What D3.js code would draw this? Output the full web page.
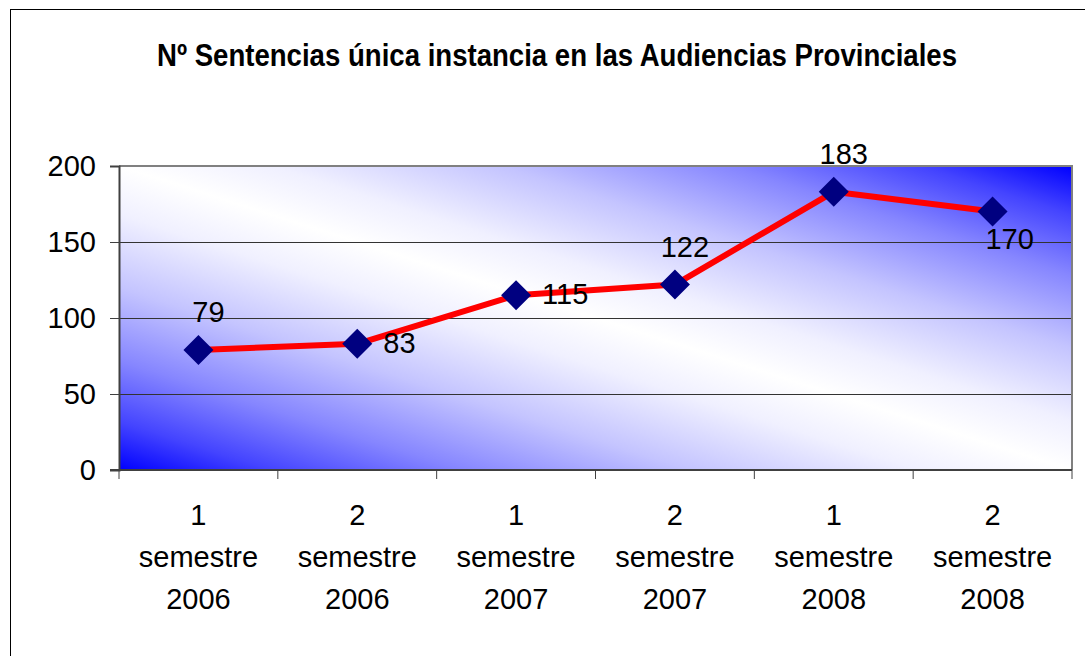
<!DOCTYPE html>
<html>
<head>
<meta charset="utf-8">
<script src="https://cdn.jsdelivr.net/npm/d3@7"></script>
<style>
  html, body { margin: 0; padding: 0; background: #fff; }
  svg { display: block; }
</style>
</head>
<body>
<script>
// ---- data ----
const titleText = "Nº Sentencias única instancia en las Audiencias Provinciales";
const categories = ["1 semestre 2006", "2 semestre 2006", "1 semestre 2007", "2 semestre 2007", "1 semestre 2008", "2 semestre 2008"];
const categoryLines = [
  ["1", "semestre", "2006"],
  ["2", "semestre", "2006"],
  ["1", "semestre", "2007"],
  ["2", "semestre", "2007"],
  ["1", "semestre", "2008"],
  ["2", "semestre", "2008"]
];
const values = [79, 83, 115, 122, 183, 170];
const yTicks = [0, 50, 100, 150, 200];
const labelPlacement = ["above", "right", "right", "above", "above", "below"];

// ---- layout ----
const W = 1085, H = 656;
const plot = { left: 119, top: 166, right: 1072, bottom: 470 };

const svg = d3.select("body").append("svg").attr("width", W).attr("height", H);

// outer chart border
svg.append("rect")
  .attr("x", 10.5).attr("y", 9.5)
  .attr("width", W + 20).attr("height", H + 20)
  .attr("fill", "#fff").attr("stroke", "#000").attr("stroke-width", 1);

// title
svg.append("text")
  .attr("x", 557).attr("y", 66)
  .attr("text-anchor", "middle")
  .attr("font-family", "'Liberation Sans Narrow', 'Arial Narrow', 'Liberation Sans', Arial, sans-serif")
  .attr("font-weight", "bold")
  .attr("font-size", 32)
  .attr("textLength", 800)
  .attr("lengthAdjust", "spacingAndGlyphs")
  .attr("fill", "#000")
  .text(titleText);

const x = d3.scaleBand().domain(categories).range([plot.left, plot.right]).paddingInner(0).paddingOuter(0);
const y = d3.scaleLinear().domain([0, 200]).range([plot.bottom, plot.top]);

// gradient background
const defs = svg.append("defs");
const grad = defs.append("linearGradient")
  .attr("id", "bg")
  .attr("x1", 0).attr("y1", 1).attr("x2", 1).attr("y2", 0);
const stops = [
  [0, "#0000ff"], [0.08, "#4444ff"], [0.18, "#8686ff"], [0.3, "#c4c4ff"], [0.42, "#f0f0ff"], [0.5, "#ffffff"],
  [0.58, "#f0f0ff"], [0.7, "#c4c4ff"], [0.82, "#8686ff"], [0.92, "#4444ff"], [1, "#0000ff"]
];
stops.forEach(s => grad.append("stop").attr("offset", s[0]).attr("stop-color", s[1]));

svg.append("rect")
  .attr("x", plot.left).attr("y", plot.top)
  .attr("width", plot.right - plot.left).attr("height", plot.bottom - plot.top)
  .attr("fill", "url(#bg)");

// gridlines
svg.append("g")
  .selectAll("line")
  .data(yTicks.filter(t => t > 0 && t < 200))
  .join("line")
  .attr("x1", plot.left).attr("x2", plot.right)
  .attr("y1", d => Math.round(y(d)) + 0.5).attr("y2", d => Math.round(y(d)) + 0.5)
  .attr("stroke", "#333").attr("stroke-width", 1);

// plot border (top & right gray)
svg.append("path")
  .attr("d", `M${plot.left},${plot.top} H${plot.right} V${plot.bottom}`)
  .attr("fill", "none").attr("stroke", "#808080").attr("stroke-width", 2);

// y axis
const yAxis = d3.axisLeft(y).tickValues(yTicks).tickSize(9).tickPadding(14);
const gy = svg.append("g").attr("transform", `translate(${plot.left},0)`).call(yAxis);
gy.select(".domain").attr("stroke", "#404040").attr("stroke-width", 2);
gy.selectAll(".tick line").attr("stroke", "#404040");
gy.selectAll(".tick text")
  .attr("font-family", "'Liberation Sans', Arial, sans-serif")
  .attr("font-size", 29).attr("fill", "#000").attr("dy", "0.34em");

// x axis
const gx = svg.append("g").attr("transform", `translate(0,${plot.bottom})`);
gx.append("line")
  .attr("x1", plot.left - 9).attr("x2", plot.right)
  .attr("y1", 0).attr("y2", 0)
  .attr("stroke", "#404040").attr("stroke-width", 2);
const boundaries = categories.map(c => x(c)).concat([x(categories[categories.length - 1]) + x.bandwidth()]);
gx.selectAll("line.tk")
  .data(boundaries)
  .join("line").attr("class", "tk")
  .attr("x1", d => d).attr("x2", d => d)
  .attr("y1", 0).attr("y2", 9)
  .attr("stroke", "#404040").attr("stroke-width", 1);

const catText = gx.selectAll("text.cat")
  .data(categories)
  .join("text").attr("class", "cat")
  .attr("text-anchor", "middle")
  .attr("font-family", "'Liberation Sans', Arial, sans-serif")
  .attr("font-size", 29).attr("fill", "#000")
  .attr("transform", d => `translate(${x(d) + x.bandwidth() / 2},0)`);
catText.each(function(d, i) {
  const t = d3.select(this);
  categoryLines[i].forEach((ln, j) => {
    t.append("tspan").attr("x", 0).attr("y", 55 + j * 42).text(ln);
  });
});

// line
const pts = categories.map((c, i) => ({ c, v: values[i], p: labelPlacement[i] }));
const cx = d => x(d.c) + x.bandwidth() / 2;
svg.append("path")
  .datum(pts)
  .attr("d", d3.line().x(cx).y(d => y(d.v)))
  .attr("fill", "none").attr("stroke", "#ff0000").attr("stroke-width", 6)
  .attr("stroke-linejoin", "round");

// markers
svg.append("g")
  .selectAll("path")
  .data(pts)
  .join("path")
  .attr("d", d3.symbol().type(d3.symbolSquare).size(450))
  .attr("transform", d => `translate(${cx(d)},${y(d.v)}) rotate(45)`)
  .attr("fill", "#000080");

// data labels
const off = { above: [10, -28], right: [26, 9], below: [17, 37] };
svg.append("g")
  .selectAll("text")
  .data(pts)
  .join("text")
  .attr("x", d => cx(d) + off[d.p][0])
  .attr("y", d => y(d.v) + off[d.p][1])
  .attr("text-anchor", d => d.p === "right" ? "start" : "middle")
  .attr("font-family", "'Liberation Sans', Arial, sans-serif")
  .attr("font-size", 29).attr("fill", "#000")
  .text(d => d.v);
</script>
</body>
</html>
